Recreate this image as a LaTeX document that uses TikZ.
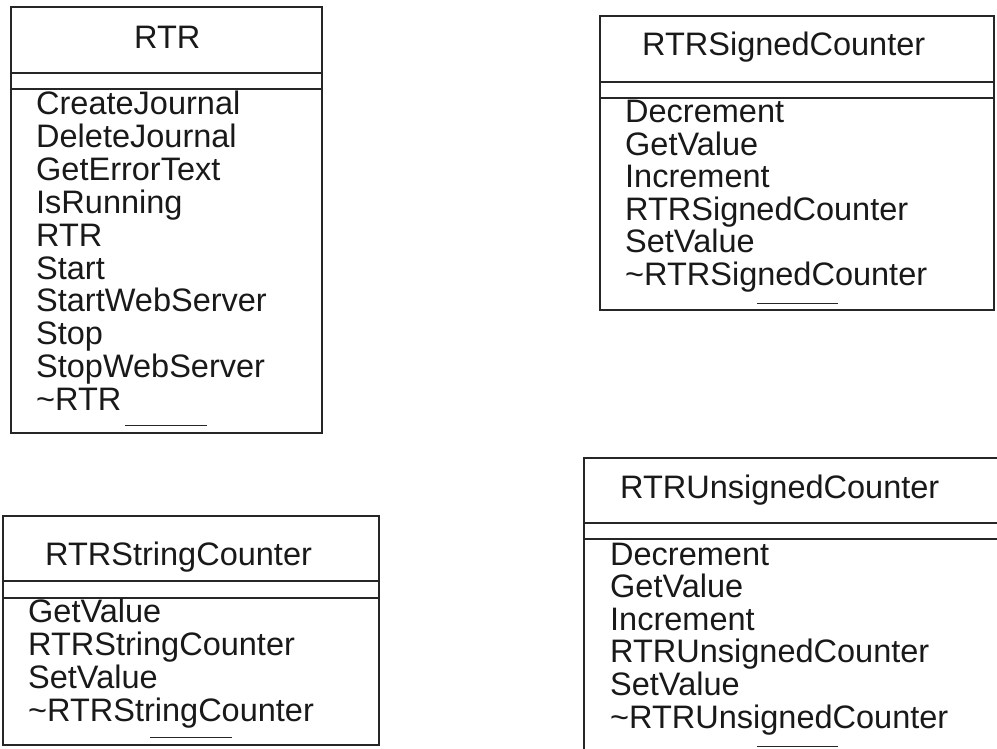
\documentclass[tikz,border=0pt]{standalone}
\usepackage{fontspec}
\setmainfont{Liberation Sans}
\usepackage{tikz}

\tikzset{
  classbox/.style={draw=black!85, line width=1.2pt},
  member/.style={anchor=base west, inner sep=0pt, text=black!90,
                 font=\fontsize{32.5}{33}\selectfont},
  ops/.style={draw=black!85, line width=1pt}
}

\begin{document}
\begin{tikzpicture}[x=1pt, y=-1pt]
    \useasboundingbox (0,0) rectangle (997,749);

    % RTR
    \draw[classbox] (11,7) rectangle (322,433);
    \draw[classbox] (11,73) -- (322,73) (11,89) -- (322,89);
    \node[member] (rtr) at (134,49) {RTR};
    \foreach \m [count=\i from 0] in {CreateJournal, DeleteJournal, GetErrorText,
        IsRunning, RTR, Start, StartWebServer, Stop, StopWebServer, \textasciitilde RTR}
        \node[member] (rtr-\i) at (36,115+32.8*\i) {\m};
    \draw[ops] (125,425) -- (207,425);

    % RTRSignedCounter
    \draw[classbox] (600,16) rectangle (994,310);
    \draw[classbox] (600,82) -- (994,82) (600,98) -- (994,98);
    \node[member] (sig) at (642,56) {RTRSignedCounter};
    \foreach \m [count=\i from 0] in {Decrement, GetValue, Increment,
        RTRSignedCounter, SetValue, \textasciitilde RTRSignedCounter}
        \node[member] (sig-\i) at (625,123+32.5*\i) {\m};
    \draw[ops] (757,303) -- (838,303);

    % RTRStringCounter
    \draw[classbox] (3,516) rectangle (379,745);
    \draw[classbox] (3,581) -- (379,581) (3,598) -- (379,598);
    \node[member] (str) at (45,565) {RTRStringCounter};
    \foreach \m [count=\i from 0] in {GetValue, RTRStringCounter, SetValue,
        \textasciitilde RTRStringCounter}
        \node[member] (str-\i) at (28,622+33.3*\i) {\m};
    \draw[ops] (150,737) -- (232,737);

    % RTRUnsignedCounter
    \draw[classbox] (584,458) rectangle (1010,770);
    \draw[classbox] (584,523) -- (1010,523) (584,539) -- (1010,539);
    \node[member] (uns) at (620,498) {RTRUnsignedCounter};
    \foreach \m [count=\i from 0] in {Decrement, GetValue, Increment,
        RTRUnsignedCounter, SetValue, \textasciitilde RTRUnsignedCounter}
        \node[member] (uns-\i) at (610,565+32.6*\i) {\m};
    \draw[ops] (757,746) -- (838,746);
\end{tikzpicture}
\end{document}
